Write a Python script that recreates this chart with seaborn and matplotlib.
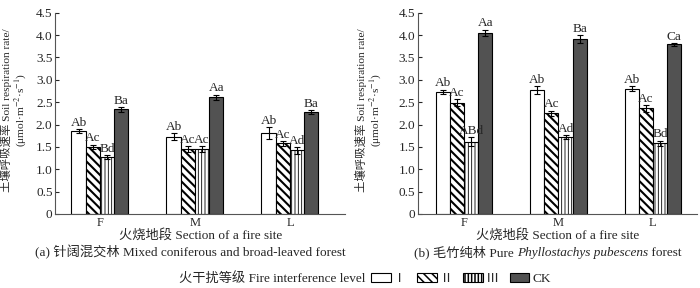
import numpy as np
import pandas as pd
import seaborn as sns
import matplotlib.pyplot as plt
from matplotlib.patches import Patch

# fire sites and fire interference levels
sites = ["F", "M", "L"]
levels = ["Ⅰ", "Ⅱ", "Ⅲ", "CK"]

# (a) mixed coniferous and broad-leaved forest, values per level across F, M, L
mixed_I = [1.85, 1.73, 1.81]
mixed_II = [1.50, 1.45, 1.58]
mixed_III = [1.27, 1.45, 1.42]
mixed_CK = [2.34, 2.61, 2.28]
mixed_err_I = [0.05, 0.07, 0.13]
mixed_err_II = [0.05, 0.07, 0.05]
mixed_err_III = [0.04, 0.07, 0.07]
mixed_err_CK = [0.05, 0.06, 0.04]
mixed_sig_I = ["Ab", "Ab", "Ab"]
mixed_sig_II = ["Ac", "Ac", "Ac"]
mixed_sig_III = ["Bd", "Ac", "Ad"]
mixed_sig_CK = ["Ba", "Aa", "Ba"]

# (b) pure Phyllostachys pubescens forest
bamboo_I = [2.73, 2.77, 2.80]
bamboo_II = [2.49, 2.25, 2.36]
bamboo_III = [1.61, 1.72, 1.58]
bamboo_CK = [4.05, 3.91, 3.79]
bamboo_err_I = [0.05, 0.09, 0.05]
bamboo_err_II = [0.08, 0.06, 0.07]
bamboo_err_III = [0.10, 0.04, 0.06]
bamboo_err_CK = [0.07, 0.08, 0.03]
bamboo_sig_I = ["Ab", "Ab", "Ab"]
bamboo_sig_II = ["Ac", "Ac", "Ac"]
bamboo_sig_III = ["ABd", "Ad", "Bd"]
bamboo_sig_CK = ["Aa", "Ba", "Ca"]

colors = ["white", "white", "white", "#525252"]
hatches = ["", "\\\\\\\\", "|||||", ""]
hatch_lw = [1.0, 1.5, 0.6, 1.0]
FS = 9.5
YLABEL = "土壤呼吸速率 Soil respiration rate/\n(μmol·m$^{-2}$·s$^{-1}$)"

sns.set_style("ticks")
plt.rcParams["font.family"] = ["Liberation Serif", "Noto Sans CJK SC", "DejaVu Sans"]
plt.rcParams["mathtext.fontset"] = "stix"
plt.rcParams["font.size"] = FS
plt.rcParams["hatch.linewidth"] = 1.1


def make_frame(vals):
    rows = []
    for lev, series in zip(levels, vals):
        for s, v in zip(sites, series):
            rows.append({"site": s, "level": lev, "rate": v})
    return pd.DataFrame(rows)


def draw_panel(ax, vals, errs, sigs, xlim):
    df = make_frame(vals)
    sns.barplot(data=df, x="site", y="rate", hue="level", order=sites,
                hue_order=levels, width=0.6, errorbar=None, palette=colors,
                edgecolor="black", linewidth=0.8, ax=ax, legend=False)
    bar_groups = list(ax.containers)
    for i, cont in enumerate(bar_groups):
        xs, ys = [], []
        for bar in cont:
            bar.set_hatch(hatches[i])
            if hasattr(bar, "set_hatch_linewidth"):
                bar.set_hatch_linewidth(hatch_lw[i])
            xs.append(bar.get_x() + bar.get_width() / 2)
            ys.append(bar.get_height())
        ax.errorbar(xs, ys, yerr=errs[i], fmt="none", ecolor="black",
                    elinewidth=0.8, capsize=2, capthick=0.8)
        for x, y, e, t in zip(xs, ys, errs[i], sigs[i]):
            ax.text(x, y + e + 0.01, t, ha="center", va="bottom", fontsize=FS)
    ax.set_ylim(0, 4.5)
    ax.set_xlim(*xlim)
    ax.set_yticks(np.arange(0, 4.51, 0.5))
    ax.set_yticklabels(["0"] + ["%.1f" % v for v in np.arange(0.5, 4.51, 0.5)])
    ax.tick_params(axis="y", direction="in", length=3, width=0.8, pad=2, labelsize=FS)
    ax.tick_params(axis="x", length=0, pad=2, labelsize=9)
    sns.despine(ax=ax)
    for sp in ["left", "bottom"]:
        ax.spines[sp].set_linewidth(0.8)
        ax.spines[sp].set_color("#555555")
    ax.set_xlabel("火烧地段 Section of a fire site", fontsize=FS, labelpad=0)
    ax.set_ylabel("")


fig = plt.figure(figsize=(7, 2.88), dpi=100)
ax1 = fig.add_axes([0.079, 0.257, 0.414, 0.699])
ax2 = fig.add_axes([0.597, 0.257, 0.399, 0.699])

draw_panel(ax1, [mixed_I, mixed_II, mixed_III, mixed_CK],
           [mixed_err_I, mixed_err_II, mixed_err_III, mixed_err_CK],
           [mixed_sig_I, mixed_sig_II, mixed_sig_III, mixed_sig_CK],
           (-0.47, 2.58))
draw_panel(ax2, [bamboo_I, bamboo_II, bamboo_III, bamboo_CK],
           [bamboo_err_I, bamboo_err_II, bamboo_err_III, bamboo_err_CK],
           [bamboo_sig_I, bamboo_sig_II, bamboo_sig_III, bamboo_sig_CK],
           (-0.49, 2.47))

# y-axis titles
for xc in (14, 369):
    fig.text(xc / 700, 1 - 110 / 288, YLABEL, rotation=90, ha="center",
             va="center", multialignment="center", fontsize=8.2, linespacing=1.0)

# captions
fig.text(190 / 700, 1 - 252 / 288,
         "(a) 针阔混交林 Mixed coniferous and broad-leaved forest",
         ha="center", va="center", fontsize=FS)


def row_text(pieces, xc, y):
    fig.canvas.draw()
    r = fig.canvas.get_renderer()
    arts = []
    for txt, style in pieces:
        arts.append(fig.text(0, y, txt, ha="left", va="baseline", fontsize=FS, style=style))
    widths = [a.get_window_extent(r).width for a in arts]
    total = sum(widths)
    x = xc * 700 - total / 2
    for a, w in zip(arts, widths):
        a.set_x(x / 700)
        x += w


row_text([("(b) 毛竹纯林 Pure ", "normal"),
          ("Phyllostachys pubescens", "italic"),
          (" forest", "normal")], 548 / 700, 1 - 256 / 288)

# legend
fig.text(365 / 700, 1 - 279 / 288, "火干扰等级 Fire interference level",
         ha="right", va="center", fontsize=FS)
handles = [Patch(facecolor=c, edgecolor="black", hatch=h, linewidth=0.8)
           for c, h in zip(colors, hatches)]
fig.legend(handles, levels, loc="center left",
           bbox_to_anchor=(371 / 700, 1 - 279 / 288), ncol=4, frameon=False,
           fontsize=FS, handlelength=1.5, handleheight=0.75, handletextpad=0.2,
           columnspacing=0.8, borderpad=0, borderaxespad=0)

fig.savefig("out.png", dpi=100)
